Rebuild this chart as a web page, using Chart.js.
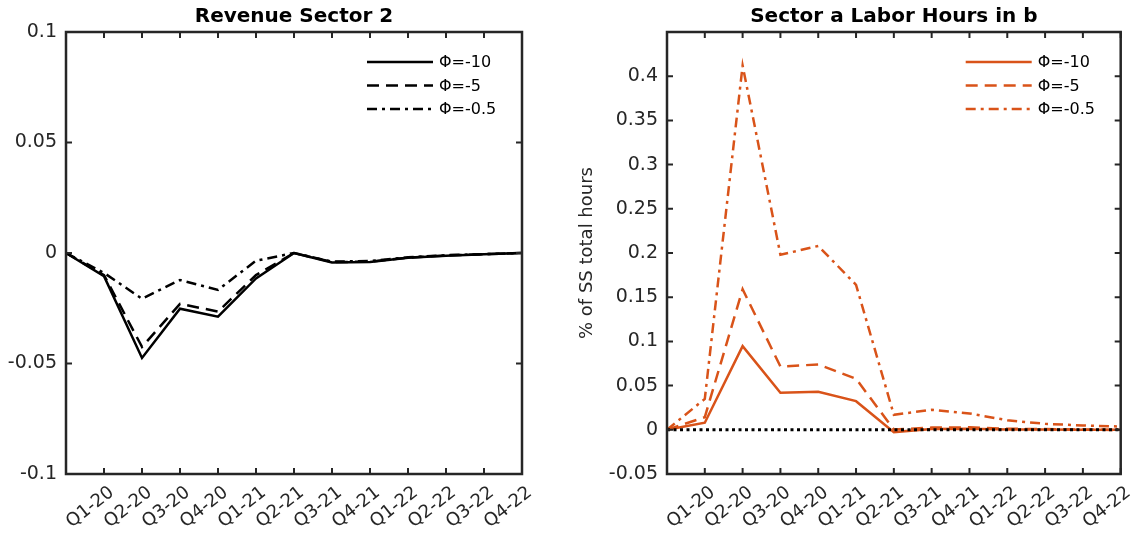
<!DOCTYPE html>
<html>
<head>
<meta charset="utf-8">
<script src="https://cdn.jsdelivr.net/npm/chart.js@4"></script>
<style>
  body { margin: 0; background: #fff; }
  #wrap { width: 1142px; height: 537px; display: flex; }
  canvas { display: block; }
</style>
</head>
<body>
<div id="wrap">
  <canvas id="left" width="571" height="537"></canvas>
  <canvas id="right" width="571" height="537"></canvas>
</div>
<script>
// quarters (first point is the starting period, unlabeled)
var categories = ['', 'Q1-20', 'Q2-20', 'Q3-20', 'Q4-20', 'Q1-21', 'Q2-21', 'Q3-21', 'Q4-21', 'Q1-22', 'Q2-22', 'Q3-22', 'Q4-22'];
var seriesLabels = ['\u03A6=-10', '\u03A6=-5', '\u03A6=-0.5'];

// Revenue Sector 2
var revPhi10 = [0, -0.0105, -0.0475, -0.0252, -0.0288, -0.0115, 0, -0.0043, -0.0041, -0.0022, -0.0012, -0.0006, 0];
var revPhi5 = [0, -0.0100, -0.0425, -0.0230, -0.0265, -0.0100, 0, -0.0041, -0.0039, -0.0021, -0.0011, -0.0005, 0];
var revPhi05 = [0, -0.0090, -0.0207, -0.0122, -0.0167, -0.0035, 0, -0.0039, -0.0036, -0.0019, -0.0010, -0.0005, 0];
var revTicks = [-0.1, -0.05, 0, 0.05, 0.1];

// Sector a Labor Hours in b
var hrsPhi10 = [0, 0.0080, 0.0946, 0.0418, 0.0430, 0.0324, -0.0026, 0.0010, 0.0012, 0.0003, 0.0002, 0.0001, 0];
var hrsPhi5 = [0, 0.0143, 0.1590, 0.0716, 0.0739, 0.0577, 0.0003, 0.0025, 0.0028, 0.0012, 0.0008, 0.0003, -0.0005];
var hrsPhi05 = [0, 0.0350, 0.4120, 0.1980, 0.2080, 0.1640, 0.0170, 0.0226, 0.0185, 0.0108, 0.0068, 0.0049, 0.0037];
var hrsZero = [0, 0, 0, 0, 0, 0, 0, 0, 0, 0, 0, 0, 0];
var hrsTicks = [-0.05, 0, 0.05, 0.1, 0.15, 0.2, 0.25, 0.3, 0.35, 0.4];

var axisColor = '#262626';
var orange = '#D95319';
var fontFam = '"DejaVu Sans", sans-serif';
var dashes = [[], [12, 7], [10, 5, 3, 5]];

// MATLAB style box with inward ticks
var boxPlugin = {
  id: 'box',
  afterDatasetsDraw: function (chart) {
    var ctx = chart.ctx, a = chart.chartArea, x = chart.scales.x, y = chart.scales.y;
    ctx.save();
    ctx.strokeStyle = axisColor;
    ctx.lineWidth = 2;
    ctx.beginPath();
    x.ticks.forEach(function (t, i) {
      var px = x.getPixelForTick(i);
      ctx.moveTo(px, a.bottom); ctx.lineTo(px, a.bottom - 6);
      ctx.moveTo(px, a.top); ctx.lineTo(px, a.top + 6);
    });
    y.ticks.forEach(function (t) {
      var py = y.getPixelForValue(t.value);
      ctx.moveTo(a.left, py); ctx.lineTo(a.left + 6, py);
      ctx.moveTo(a.right, py); ctx.lineTo(a.right - 6, py);
    });
    ctx.stroke();
    ctx.lineWidth = 2.5;
    ctx.strokeRect(a.left, a.top, a.right - a.left, a.bottom - a.top);
    ctx.restore();
  }
};

// axes title centred over the plot box (matlab puts it over the axes, not the figure)
var axesTitle = {
  id: 'axesTitle',
  afterDraw: function (chart, args, opts) {
    var ctx = chart.ctx, a = chart.chartArea;
    ctx.save();
    ctx.font = 'bold 20px ' + fontFam;
    ctx.fillStyle = '#000';
    ctx.textAlign = 'center';
    ctx.textBaseline = 'middle';
    ctx.fillText(opts.text, (a.left + a.right) / 2, 17);
    ctx.restore();
  }
};

// legend inside the axes, top right, no frame
var lineLegend = {
  id: 'lineLegend',
  afterDraw: function (chart) {
    var ctx = chart.ctx, a = chart.chartArea;
    ctx.save();
    ctx.font = '16px ' + fontFam;
    ctx.fillStyle = '#000';
    ctx.textBaseline = 'middle';
    var row = 0;
    chart.data.datasets.forEach(function (ds) {
      if (!ds.label) return;
      var yy = a.top + 30 + row * 23.5;
      ctx.strokeStyle = ds.borderColor;
      ctx.lineWidth = ds.borderWidth;
      ctx.setLineDash(ds.borderDash || []);
      ctx.beginPath();
      ctx.moveTo(a.right - 155, yy);
      ctx.lineTo(a.right - 89, yy);
      ctx.stroke();
      ctx.setLineDash([]);
      ctx.fillText(ds.label, a.right - 83, yy + 1);
      row++;
    });
    ctx.restore();
  }
};

function fmt(v) {
  return String(parseFloat(Number(v).toFixed(3)));
}

function makeOptions(title, yMin, yMax, yTicks, yWidth, padRight, yTitle) {
  return {
    responsive: false,
    animation: false,
    devicePixelRatio: 1,
    layout: { padding: { left: 0, right: padRight, top: 32, bottom: 0 } },
    plugins: {
      legend: { display: false },
      tooltip: { enabled: false },
      title: { display: false },
      axesTitle: { text: title }
    },
    scales: {
      x: {
        type: 'category',
        offset: false,
        grid: { display: false, drawTicks: false },
        border: { display: false },
        ticks: {
          autoSkip: false,
          maxRotation: 38,
          minRotation: 38,
          labelOffset: 8,
          padding: 8,
          color: axisColor,
          font: { family: fontFam, size: 18 }
        },
        afterFit: function (s) { s.height = 63; }
      },
      y: {
        min: yMin,
        max: yMax,
        grid: { display: false, drawTicks: false },
        border: { display: false },
        afterBuildTicks: function (s) {
          s.ticks = yTicks.map(function (v) { return { value: v }; });
        },
        ticks: {
          padding: 9,
          color: axisColor,
          font: { family: fontFam, size: 19 },
          callback: function (v) { return fmt(v); }
        },
        title: {
          display: !!yTitle,
          text: yTitle || '',
          color: axisColor,
          font: { family: fontFam, size: 18 },
          padding: { top: 6, bottom: 0 }
        },
        afterFit: function (s) { s.width = yWidth; }
      }
    }
  };
}

function lineSet(label, data, color, i) {
  return {
    label: label,
    data: data,
    borderColor: color,
    borderWidth: 2.5,
    borderDash: dashes[i],
    pointRadius: 0,
    tension: 0,
    fill: false,
    order: 1
  };
}

new Chart(document.getElementById('left'), {
  type: 'line',
  data: {
    labels: categories,
    datasets: [
      lineSet(seriesLabels[0], revPhi10, '#000', 0),
      lineSet(seriesLabels[1], revPhi5, '#000', 1),
      lineSet(seriesLabels[2], revPhi05, '#000', 2)
    ]
  },
  options: makeOptions('Revenue Sector 2', -0.1, 0.1, revTicks, 66, 49, null),
  plugins: [boxPlugin, axesTitle, lineLegend]
});

new Chart(document.getElementById('right'), {
  type: 'line',
  data: {
    labels: categories,
    datasets: [
      lineSet(seriesLabels[0], hrsPhi10, orange, 0),
      lineSet(seriesLabels[1], hrsPhi5, orange, 1),
      lineSet(seriesLabels[2], hrsPhi05, orange, 2),
      {
        data: hrsZero,
        borderColor: '#000',
        borderWidth: 3,
        borderDash: [3, 3.5],
        pointRadius: 0,
        fill: false,
        order: 0
      }
    ]
  },
  options: makeOptions('Sector a Labor Hours in b', -0.05, 0.45, hrsTicks, 96, 19, '% of SS total hours'),
  plugins: [boxPlugin, axesTitle, lineLegend]
});
</script>
</body>
</html>
